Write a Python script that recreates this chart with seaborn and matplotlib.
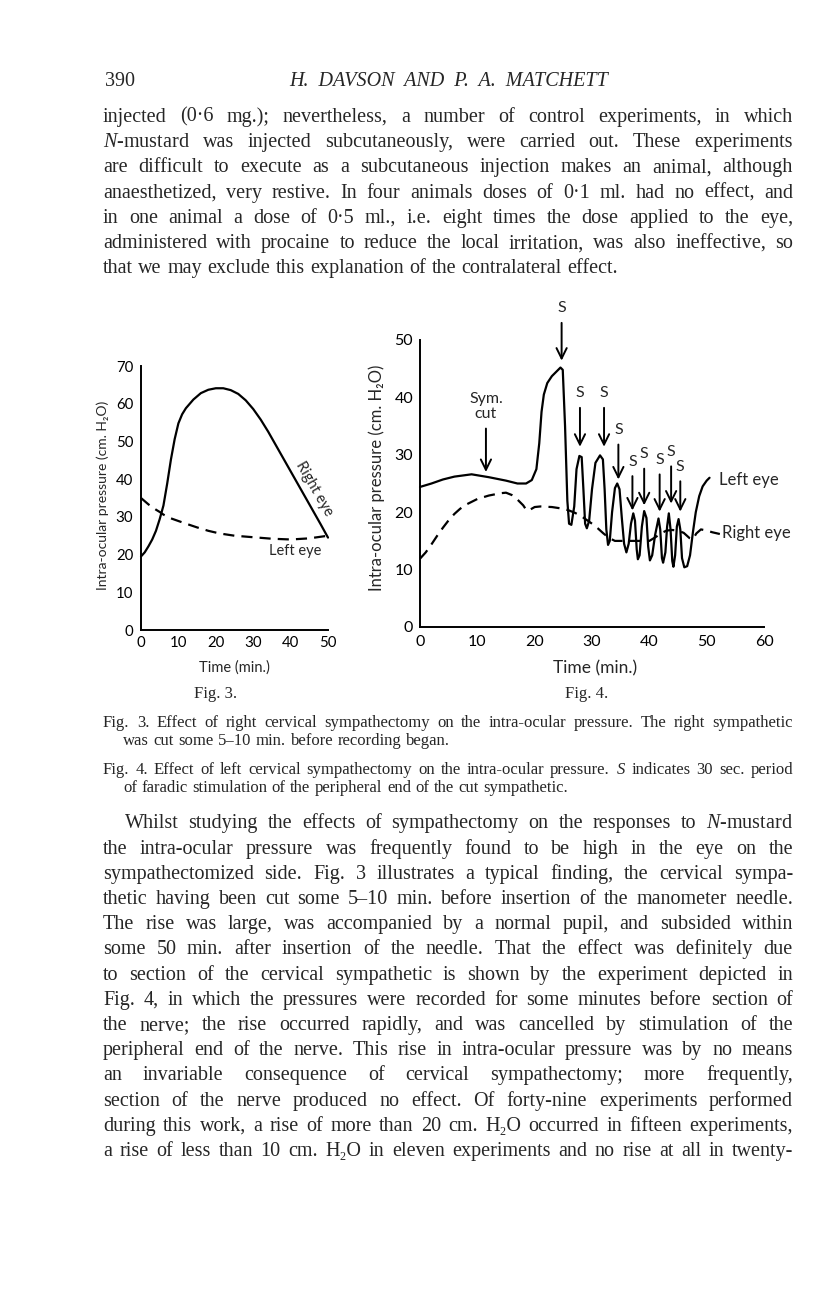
import matplotlib
matplotlib.use("Agg")
import matplotlib.pyplot as plt
import seaborn as sns
import pandas as pd

sns.set_style("white")
plt.rcParams["font.family"] = ["Lato", "DejaVu Sans"]
plt.rcParams["mathtext.fontset"] = "custom"
plt.rcParams["mathtext.rm"] = "Liberation Serif"
plt.rcParams["mathtext.it"] = "Liberation Serif:italic"

SERIF = ["Liberation Serif", "DejaVu Serif"]
SANS = ["Lato", "DejaVu Sans"]
W, H = 816, 1296

# ---- Fig. 3: time (min) vs intra-ocular pressure (cm H2O)
fig3_right_time = [0, 1, 2, 3, 4, 5, 6, 7, 8, 9, 10, 11, 12, 14, 16, 18, 20, 22, 24, 26,
                   28, 30, 32, 34, 36, 38, 40, 42, 44, 46, 48, 50]
fig3_right_pres = [19.5, 20.6, 22.2, 24.0, 26.3, 29.4, 33.0, 38.8, 45.2, 50.6, 54.8, 57.2,
                   58.8, 61.1, 62.8, 63.7, 64.1, 64.1, 63.6, 62.6, 60.9, 58.6, 55.8, 52.6,
                   49.1, 45.6, 42.1, 38.6, 35.1, 31.6, 28.1, 24.5]
fig3_left_time = [0, 2, 4, 5, 6, 8, 10, 12, 15, 18, 21, 25, 30, 35, 40, 45, 50]
fig3_left_pres = [35.0, 33.3, 31.9, 31.3, 30.6, 29.6, 28.9, 28.2, 27.2, 26.3, 25.6, 25.0,
                  24.6, 24.2, 24.0, 24.3, 25.0]

# ---- Fig. 4
fig4_left_time = [0, 2, 4, 6, 9, 12, 15, 17, 18.5, 19.5, 20.3, 20.8, 21.2, 21.6, 22.2, 23.0,
                  23.8, 24.5, 24.9, 25.3, 25.7, 26.0, 26.4, 26.9, 27.3, 27.8, 28.2, 28.5,
                  28.8, 29.1, 29.5, 30.0, 30.6, 31.4, 31.9, 32.2, 32.5, 32.8, 33.1, 33.5,
                  34.0, 34.4, 34.8, 35.2, 35.6, 36.0, 36.4, 36.8, 37.2, 37.5, 37.8, 38.0,
                  38.3, 38.7, 39.1, 39.5, 39.8, 40.1, 40.5, 41.0, 41.6, 41.9, 42.2, 42.4,
                  42.8, 43.1, 43.4, 43.7, 44.0, 44.2, 44.5, 44.8, 45.1, 45.4, 45.7, 46.1,
                  46.6, 47.1, 47.6, 48.1, 48.7, 49.3, 50.0, 50.5]
fig4_left_pres = [24.4, 25.0, 25.7, 26.2, 26.6, 26.1, 25.5, 25.0, 25.0, 25.6, 27.5, 32.0,
                  37.5, 40.5, 42.5, 43.7, 44.5, 45.2, 44.8, 35.0, 22.0, 18.0, 17.8, 21.0,
                  27.5, 29.8, 29.6, 24.0, 18.0, 17.2, 18.5, 24.0, 28.6, 29.9, 29.2, 24.0,
                  17.0, 14.3, 15.0, 20.0, 24.2, 25.0, 24.0, 19.0, 14.5, 13.0, 14.5, 18.0,
                  19.8, 18.5, 13.5, 11.8, 12.5, 17.5, 20.2, 19.0, 14.0, 11.6, 12.5, 16.0,
                  18.9, 17.0, 12.0, 11.2, 13.0, 17.5, 19.8, 17.0, 11.5, 10.5, 12.5, 17.5,
                  18.8, 17.0, 12.0, 10.4, 10.6, 12.5, 16.5, 20.0, 22.8, 24.5, 25.5, 26.0]
fig4_right_time = [0, 1, 2, 3, 4, 5, 6, 7, 8, 10, 12, 14, 15, 16, 17, 18, 18.6, 19.3, 20,
                   21, 23, 25, 26, 27, 28, 29, 30, 31, 32, 33, 34, 36, 38, 40, 41, 42, 43,
                   44, 45, 46, 47, 47.6, 48.2, 49, 50, 51, 52.3]
fig4_right_pres = [11.9, 13.0, 14.4, 15.9, 17.3, 18.6, 19.7, 20.6, 21.3, 22.3, 22.9, 23.3,
                   23.4, 23.0, 22.2, 21.2, 20.3, 20.5, 20.9, 21.0, 20.9, 20.6, 20.3, 19.9,
                   19.4, 18.7, 18.0, 17.2, 16.3, 15.5, 15.0, 15.0, 15.0, 15.0, 15.6, 16.3,
                   16.8, 16.9, 16.8, 16.4, 15.5, 15.3, 16.3, 17.0, 16.8, 16.5, 16.2]
# stimulation periods "S": time, height of the letter, pressure at arrow tip
stim_time = [24.7, 27.9, 32.1, 34.6, 37.05, 39.1, 41.8, 43.8, 45.4]
stim_label = [55.5, 40.7, 40.7, 34.3, 28.8, 30.1, 29.1, 30.5, 27.9]
stim_tip = [46.4, 31.4, 31.4, 25.7, 20.3, 21.2, 20.1, 21.5, 20.1]
cut_time, cut_label, cut_tip = 11.5, 38.4, 27.0

ylabel = "Intra-ocular pressure (cm. H\u2082O)"

para1 = [
    "injected (0\u00b76 mg.); nevertheless, a number of control experiments, in which",
    "$N$-mustard was injected subcutaneously, were carried out. These experiments",
    "are difficult to execute as a subcutaneous injection makes an animal, although",
    "anaesthetized, very restive.  In four animals doses of 0\u00b71 ml. had no effect, and",
    "in one animal a dose of 0\u00b75 ml., i.e. eight times the dose applied to the eye,",
    "administered with procaine to reduce the local irritation, was also ineffective, so",
    "that we may exclude this explanation of the contralateral effect.",
]
para2 = [
    "Whilst studying the effects of sympathectomy on the responses to $N$-mustard",
    "the intra-ocular pressure was frequently found to be high in the eye on the",
    "sympathectomized side.  Fig. 3 illustrates a typical finding, the cervical sympa-",
    "thetic having been cut some 5\u201310 min. before insertion of the manometer needle.",
    "The rise was large, was accompanied by a normal pupil, and subsided within",
    "some 50 min. after insertion of the needle. That the effect was definitely due",
    "to section of the cervical sympathetic is shown by the experiment depicted in",
    "Fig. 4, in which the pressures were recorded for some minutes before section of",
    "the nerve; the rise occurred rapidly, and was cancelled by stimulation of the",
    "peripheral end of the nerve. This rise in intra-ocular pressure was by no means",
    "an invariable consequence of cervical sympathectomy; more frequently,",
    "section of the nerve produced no effect.  Of forty-nine experiments performed",
    "during this work, a rise of more than 20 cm. H\u2082O occurred in fifteen experiments,",
    "a rise of less than 10 cm. H\u2082O in eleven experiments and no rise at all in twenty-",
]
cap3 = ["Fig. 3.  Effect of right cervical sympathectomy on the intra-ocular pressure. The right sympathetic",
        "was cut some 5\u201310 min. before recording began."]
cap4 = ["Fig. 4.  Effect of left cervical sympathectomy on the intra-ocular pressure.  $S$ indicates 30 sec. period",
        "of faradic stimulation of the peripheral end of the cut sympathetic."]

fig = plt.figure(figsize=(W / 100, H / 100), dpi=100)
fig.patch.set_facecolor("white")
rend = fig.canvas.get_renderer()


def fx(x):
    return x / W


def fy(y):
    return 1 - y / H


def style_axes(ax, fs, ylen, xlen, ypad, xpad):
    sns.despine(ax=ax)
    for s in ("left", "bottom"):
        ax.spines[s].set_linewidth(1.4)
        ax.spines[s].set_color("black")
    ax.tick_params(direction="in", width=1.4, colors="black", labelsize=fs)
    ax.tick_params(axis="y", length=ylen, pad=ypad)
    ax.tick_params(axis="x", length=xlen, pad=xpad)
    for lab in ax.get_xticklabels() + ax.get_yticklabels():
        lab.set_family(SANS)


def draw_curve(ax, t, p, dashed=False):
    df = pd.DataFrame({"t": t, "p": p})
    kw = dict(linestyle=(0, (5, 3.2))) if dashed else {}
    sns.lineplot(data=df, x="t", y="p", ax=ax, color="black", lw=1.6,
                 estimator=None, sort=False, **kw)


# ---------------- Fig. 3 ----------------
ax3 = fig.add_axes([fx(141), fy(630), (328 - 141) / W, (630 - 366) / H])
draw_curve(ax3, fig3_right_time, fig3_right_pres)
draw_curve(ax3, fig3_left_time, fig3_left_pres, dashed=True)
ax3.set_xlim(0, 50)
ax3.set_ylim(0, 70)
ax3.set_xticks(range(0, 51, 10))
ax3.set_yticks(range(0, 71, 10))
ax3.set_xlabel("")
ax3.set_ylabel("")
style_axes(ax3, 10.8, 5, 7, 5.5, 4)
ax3.yaxis.get_major_ticks()[-1].tick1line.set_markersize(13.7)
ax3.xaxis.get_major_ticks()[-1].tick1line.set_markersize(13)
ax3.text(41.3, 21, "Left eye", fontsize=10.5, family=SANS, ha="center", va="center")
ax3.text(46.2, 37.4, "Right eye", fontsize=10.5, family=SANS, ha="center", va="center",
         rotation=-60, rotation_mode="anchor")

# ---------------- Fig. 4 ----------------
ax4 = fig.add_axes([fx(420), fy(627), (764 - 420) / W, (627 - 340) / H])
draw_curve(ax4, fig4_left_time, fig4_left_pres)
draw_curve(ax4, fig4_right_time, fig4_right_pres, dashed=True)
ax4.set_xlim(0, 60)
ax4.set_ylim(0, 50)
ax4.set_xticks(range(0, 61, 10))
ax4.set_yticks(range(0, 51, 10))
ax4.set_xlabel("")
ax4.set_ylabel("")
style_axes(ax4, 11.5, 6, 9, 5, 5.5)
ax4.yaxis.get_major_ticks()[-1].tick1line.set_markersize(19.5)
ax4.xaxis.get_major_ticks()[-1].tick1line.set_markersize(21.5)
for line in ax3.lines + ax4.lines:
    line.set_clip_on(False)

arrow = dict(arrowstyle="->,head_length=0.65,head_width=0.32", color="black", lw=1.4,
             shrinkA=3, shrinkB=0)
for t, ly, tip in zip(stim_time, stim_label, stim_tip):
    ax4.annotate("S", xy=(t, tip), xytext=(t, ly), ha="center", va="center",
                 fontsize=11.5, family=SANS, arrowprops=arrow, annotation_clip=False)
ax4.annotate("Sym.\ncut", xy=(cut_time, cut_tip), xytext=(cut_time, cut_label),
             ha="center", va="center", fontsize=11.5, family=SANS, linespacing=1.1,
             arrowprops=arrow, annotation_clip=False)
ax4.text(52.2, 25.6, "Left eye", fontsize=12, family=SANS, ha="left", va="center")
ax4.text(52.7, 16.3, "Right eye", fontsize=12, family=SANS, ha="left", va="center")

# axis titles and figure labels
fig.text(fx(234), fy(668), "Time (min.)", fontsize=10.5, family=SANS, ha="center", va="center")
fig.text(fx(595), fy(668), "Time (min.)", fontsize=12.5, family=SANS, ha="center", va="center")
fig.text(fx(103), fy(495), ylabel, fontsize=10, family=SANS, rotation=90, ha="center", va="center")
fig.text(fx(377), fy(478), ylabel, fontsize=12, family=SANS, rotation=90, ha="center", va="center")
fig.text(fx(216), fy(698), "Fig. 3.", fontsize=12, family=SERIF, ha="center", va="baseline")
fig.text(fx(587), fy(698), "Fig. 4.", fontsize=12, family=SERIF, ha="center", va="baseline")


# ---------------- page text ----------------
def fit_size(lines, width, base):
    worst = 0
    for line in lines:
        t = fig.text(0, 0, line, fontsize=base, family=SERIF)
        worst = max(worst, t.get_window_extent(rend).width)
        t.remove()
    return base * width / worst


def put_line(line, x0, x1, yb, size, justify, style="normal"):
    words = line.split()
    arts = [fig.text(0, 0, w, fontsize=size, family=SERIF, va="baseline", style=style)
            for w in words]
    widths = [a.get_window_extent(rend).width for a in arts]
    if justify and len(words) > 1:
        gap = (x1 - x0 - sum(widths)) / (len(words) - 1)
    else:
        gap = 0.27 * size * 100 / 72
    x = x0
    for a, w in zip(arts, widths):
        a.set_position((fx(x), fy(yb)))
        x += w + gap


def paragraph(lines, x0, x1, y0, dy, size, indent=0, hang=0, last_just=False):
    for i, line in enumerate(lines):
        left = x0 + (indent if i == 0 else hang)
        just = i < len(lines) - 1 or last_just
        put_line(line, left, x1, y0 + i * dy, size, just)


body_size = min(14.5, fit_size(para1[:-1] + para2, 690, 14) * 0.99)
cap_size = min(12, fit_size([cap3[0], cap4[0]], 690, 11) * 0.99)

fig.text(fx(105), fy(86), "390", fontsize=body_size, family=SERIF, va="baseline")
fig.text(fx(449), fy(86), "H.  DAVSON  AND  P.  A.  MATCHETT", fontsize=body_size,
         family=SERIF, style="italic", ha="center", va="baseline")
paragraph(para1, 103, 793, 121.7, 25.27, body_size)
paragraph(cap3, 103, 793, 726.7, 18.5, cap_size, hang=20)
paragraph(cap4, 103, 793, 774, 18.5, cap_size, hang=20)
paragraph(para2, 103, 793, 828.4, 25.2, body_size, indent=22, last_just=True)

fig.savefig("out.png", dpi=100, facecolor="white")
